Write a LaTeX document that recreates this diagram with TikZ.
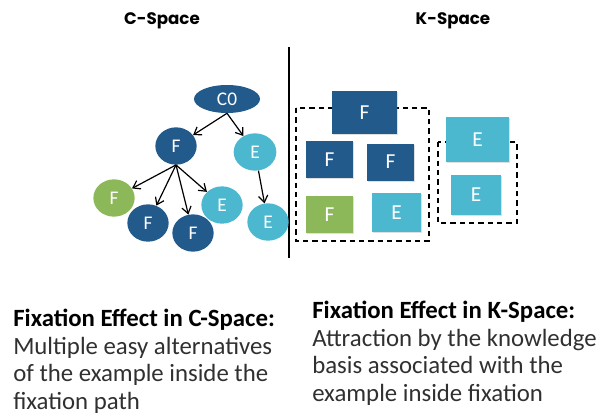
\documentclass[tikz,border=0pt]{standalone}
\usepackage{fontspec}
\setmainfont{Carlito}
\newfontfamily\headfont{Poppins}
\usepackage{tikz}
\usetikzlibrary{shapes.geometric, arrows.meta, positioning, shadows}
\definecolor{DarkBlue}{HTML}{235A8C}
\definecolor{LightBlue}{HTML}{4CB8D0}
\definecolor{LeafGreen}{HTML}{8DB85A}
\definecolor{BodyGray}{HTML}{303030}

\begin{document}
\begin{tikzpicture}[x=0.75pt, y=-0.75pt,
    cnode/.style={ellipse, minimum width=31pt, minimum height=28pt, inner sep=0pt,
                  text=white, font=\fontsize{14.5}{14.5}\selectfont},
    knode/.style={rectangle, inner sep=0pt, text=white, font=\fontsize{16}{16}\selectfont,
                  drop shadow={opacity=0.25, shadow xshift=1pt, shadow yshift=-1pt}},
    link/.style={-{Straight Barb[length=5pt, width=7pt]}, line width=0.9pt},
    fixbox/.style={dashed, line width=1pt, dash pattern=on 4pt off 3pt},
    title/.style={font=\headfont\bfseries\fontsize{12.5}{12.5}\selectfont},
    note/.style={anchor=base west, align=left, inner sep=0pt, text=BodyGray,
                 font=\fontsize{18.6}{20.6}\selectfont}]
    \useasboundingbox (0,0) rectangle (600,419);

    % Titles
    \node (ctitle) [title] at (162,21) {C-Space};
    \node (ktitle) [title] at (453,21) {K-Space};

    % Separator
    \draw[line width=0.8pt] (289,47) -- (289,258);

    % C-Space nodes
    \node (c0) [cnode, fill=DarkBlue, minimum width=49.5pt, minimum height=21pt] at (227,99) {C0};
    \node (f1) [cnode, fill=DarkBlue] at (176,146) {F};
    \node (e1) [cnode, fill=LightBlue, minimum width=32pt] at (255,152) {E};
    \node (g1) [cnode, fill=LeafGreen] at (114,198) {F};
    \node (f2) [cnode, fill=DarkBlue] at (148,223) {F};
    \node (f3) [cnode, fill=DarkBlue] at (193,233) {F};
    \node (e2) [cnode, fill=LightBlue] at (222,205) {E};
    \node (e3) [cnode, fill=LightBlue] at (268,222) {E};

    % Paths
    \draw[link] (c0.south) -- (f1);
    \draw[link] (c0.south) -- (e1);
    \draw[link] (f1.south) -- (g1);
    \draw[link] (f1.south) -- (f2);
    \draw[link] (f1.south) -- (f3);
    \draw[link] (f1.south) -- (e2);
    \draw[link] (e1) -- (e3);

    % K-Space boxes
    \draw[fixbox] (296,108) rectangle (429,241);
    \draw[fixbox] (438,142) rectangle (517,223);
    \node (kf1) [knode, fill=DarkBlue, minimum width=48.75pt, minimum height=32.25pt] at (364.5,112.5) {F};
    \node (kf2) [knode, fill=DarkBlue, minimum width=35.25pt, minimum height=27.75pt] at (329.5,159.5) {F};
    \node (kf3) [knode, fill=DarkBlue, minimum width=35.25pt, minimum height=27.75pt] at (390.5,162) {F};
    \node (kg1) [knode, fill=LeafGreen, minimum width=35.25pt, minimum height=27.75pt] at (329.5,214.5) {F};
    \node (ke1) [knode, fill=LightBlue, minimum width=36.75pt, minimum height=29.25pt] at (396.5,212.5) {E};
    \node (ke2) [knode, fill=LightBlue, minimum width=47.25pt, minimum height=33.75pt] at (477.5,139.5) {E};
    \node (ke3) [knode, fill=LightBlue, minimum width=37.5pt, minimum height=30pt] at (476,195) {E};

    % Notes (anchored at the baseline of the last line)
    \node (cnote) [note] at (13,409) {\textcolor{black}{\bfseries Fixation Effect in C-Space:}\\
        Multiple easy alternatives\\ of the example inside the\\ fixation path};
    \node (knote) [note] at (312,401) {\textcolor{black}{\bfseries Fixation Effect in K-Space:}\\
        Attraction by the knowledge\\ basis associated with the\\ example inside fixation};
\end{tikzpicture}
\end{document}
